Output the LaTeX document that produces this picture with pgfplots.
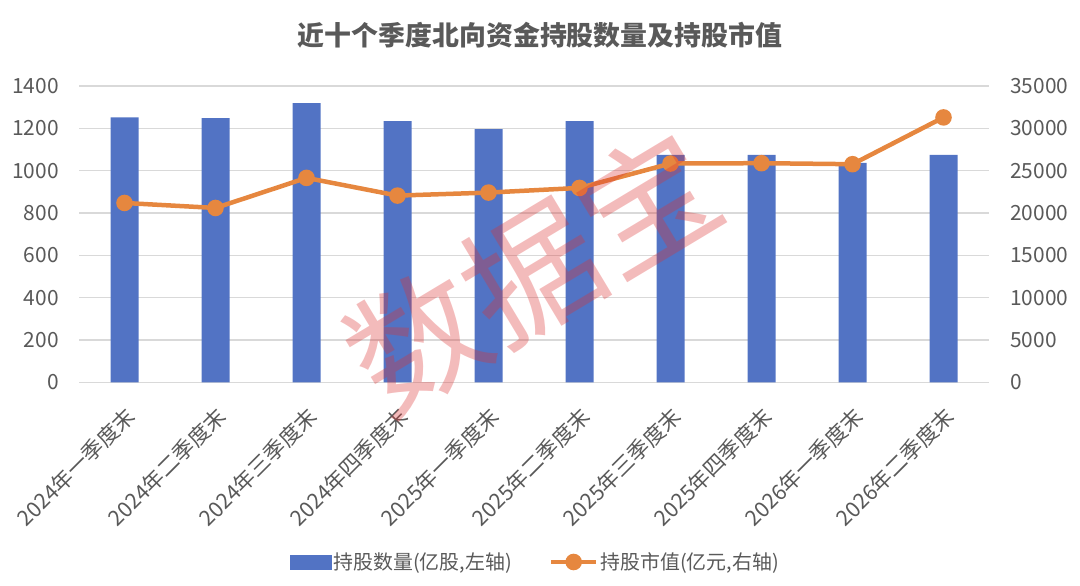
\documentclass[border=0pt]{standalone}
\usepackage{fontspec}
\setmainfont{Noto Sans CJK SC}
\usepackage{pgfplots}
\pgfplotsset{compat=1.18}
\definecolor{barblue}{HTML}{5273C4}
\definecolor{lineor}{HTML}{E6873F}
\definecolor{txt}{HTML}{595959}
\definecolor{grd}{HTML}{D9D9D9}
\definecolor{wm}{RGB}{220,50,50}
\begin{document}
\begin{tikzpicture}[x=1bp,y=1bp]
\path[use as bounding box] (0,0) rectangle (1080,586);
\begin{axis}[
  at={(79bp,203.7bp)}, anchor=south west, scale only axis,
  width=910bp, height=296.3bp,
  xmin=-0.5, xmax=9.5, ymin=0, ymax=1400,
  ybar, bar width=28bp,
  ytick={0,200,...,1400},
  xtick={0,...,9},
  xticklabels={2024年一季度末,2024年二季度末,2024年三季度末,2024年四季度末,2025年一季度末,2025年二季度末,2025年三季度末,2025年四季度末,2026年一季度末,2026年二季度末},
  ymajorgrids, grid style={grd, line width=1.3bp},
  axis line style={draw=none},
  major tick length=0pt,
  ytick pos=left,
  /pgf/number format/assume math mode=true,
  /pgf/number format/1000 sep={},
  yticklabel style={font=\fontsize{21}{24}\selectfont, text=txt, inner sep=0pt, anchor=east, xshift=-20bp},
  xticklabel style={font=\fontsize{21.5}{24}\selectfont, text=txt, inner sep=0pt, anchor=north east, xshift=-1bp, yshift=-23bp, rotate=45},
]
\addplot[fill=barblue, draw=none] coordinates {(0,1252) (1,1248) (2,1319) (3,1234) (4,1196) (5,1234) (6,1075) (7,1075) (8,1037) (9,1075)};
\end{axis}
\begin{axis}[
  at={(79bp,203.7bp)}, anchor=south west, scale only axis,
  width=910bp, height=296.3bp,
  xmin=-0.5, xmax=9.5, ymin=0, ymax=35000,
  ytick={0,5000,...,35000},
  xtick=\empty,
  axis line style={draw=none},
  major tick length=0pt,
  ytick pos=right,
  scaled y ticks=false,
  /pgf/number format/assume math mode=true,
  /pgf/number format/1000 sep={},
  yticklabel style={font=\fontsize{21}{24}\selectfont, text=txt, inner sep=0pt, anchor=west, xshift=21bp},
  legend style={at={(0.5016,-0.6065)}, anchor=center, draw=none, fill=none,
    font=\fontsize{20}{22}\selectfont, text=txt, inner sep=0pt,
    nodes={inner sep=2bp},
    /tikz/every even column/.append style={column sep=35bp}},
  legend columns=2,
]
\addlegendimage{legend image code/.code={\fill[barblue] (0bp,-7bp) rectangle (41bp,7bp);}}
\addlegendentry{持股数量(亿股,左轴)}
\addplot[color=lineor, line width=4.5bp, mark=*, mark size=6bp,
  mark options={solid, fill=lineor, draw=none},
  legend image code/.code={\draw[lineor, line width=4.5bp] (0bp,0bp) -- (45bp,0bp); \fill[lineor] (22.5bp,0bp) circle (6bp);}]
  coordinates {(0,21184) (1,20592) (2,24145) (3,22053) (4,22408) (5,22961) (6,25842) (7,25882) (8,25763) (9,31289)};
\addlegendentry{持股市值(亿元,右轴)}
\end{axis}
\node[font=\fontsize{27}{30}\selectfont\bfseries, text=txt] at (540,551) {近十个季度北向资金持股数量及持股市值};
\node[rotate=31, font=\fontsize{135}{140}\selectfont, text=wm, opacity=0.33] at (532,314) {数据宝};
\end{tikzpicture}
\end{document}
